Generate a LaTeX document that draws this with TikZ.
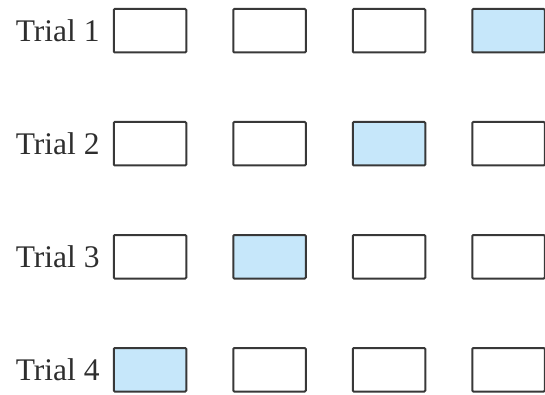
\documentclass[tikz,border=0pt]{standalone}
\usepackage{fontspec}
\setmainfont{Liberation Serif}
\usetikzlibrary{positioning}
\definecolor{trialblue}{RGB}{198,231,250}
\tikzset{
slot/.style={draw=black!78,line width=2pt,rounded corners=1pt,fill=white,
minimum width=72.5pt,minimum height=43.5pt,inner sep=0pt},
picked/.style={slot,fill=trialblue},
triallabel/.style={font=\fontsize{31.5}{36}\selectfont,text=black!82,inner sep=0pt,anchor=east}
}

\begin{document}
\begin{tikzpicture}[x=1pt,y=1pt]
\useasboundingbox (0,0) rectangle (545,-395);
% row 1
\node[slot] (r1c1) at (150,-30.75) {};
\node[slot,right=45pt of r1c1] (r1c2) {};
\node[slot,right=45pt of r1c2] (r1c3) {};
\node[picked,right=45pt of r1c3] (r1c4) {};
% row 2
\node[slot,below=67.5pt of r1c1] (r2c1) {};
\node[slot,right=45pt of r2c1] (r2c2) {};
\node[picked,right=45pt of r2c2] (r2c3) {};
\node[slot,right=45pt of r2c3] (r2c4) {};
% row 3
\node[slot,below=67.5pt of r2c1] (r3c1) {};
\node[picked,right=45pt of r3c1] (r3c2) {};
\node[slot,right=45pt of r3c2] (r3c3) {};
\node[slot,right=45pt of r3c3] (r3c4) {};
% row 4
\node[picked,below=67.5pt of r3c1] (r4c1) {};
\node[slot,right=45pt of r4c1] (r4c2) {};
\node[slot,right=45pt of r4c2] (r4c3) {};
\node[slot,right=45pt of r4c3] (r4c4) {};
% labels
\node[triallabel,left=13pt of r1c1] (t1) {Trial 1};
\node[triallabel,left=13pt of r2c1] (t2) {Trial 2};
\node[triallabel,left=13pt of r3c1] (t3) {Trial 3};
\node[triallabel,left=13pt of r4c1] (t4) {Trial 4};
\end{tikzpicture}
\end{document}
